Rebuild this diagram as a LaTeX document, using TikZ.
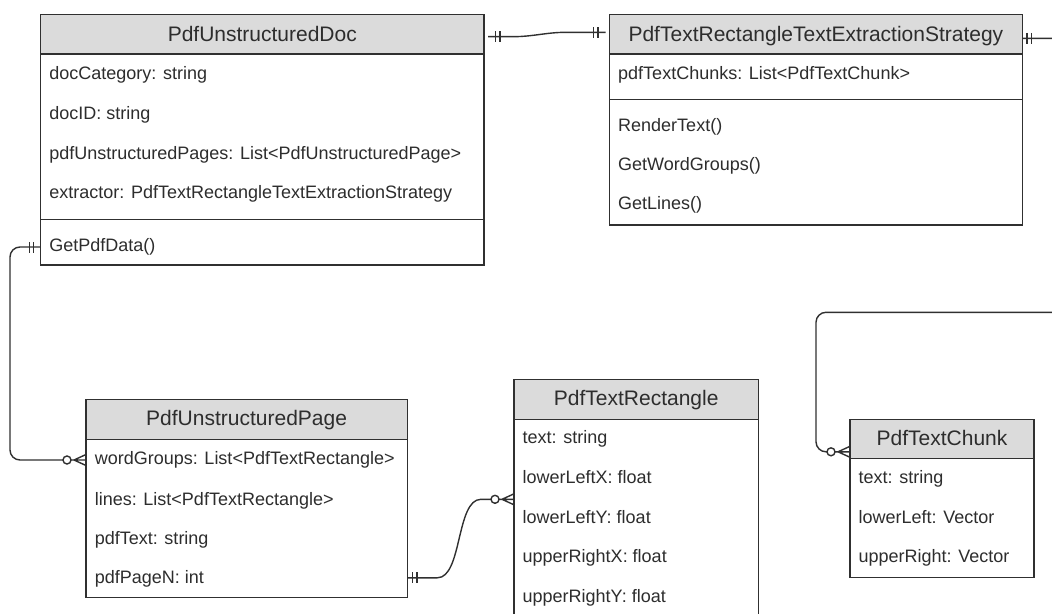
\documentclass[tikz,border=0pt]{standalone}
\usepackage{fontspec}
\setmainfont{Liberation Sans}
\usetikzlibrary{calc}

\definecolor{lc}{RGB}{48,48,48}
\definecolor{tc}{RGB}{45,45,45}
\definecolor{hfill}{RGB}{219,219,219}

% ER markers: #1 = point on the box border, #2 = direction pointing away from the box
\newcommand\erOne[3][6]{%
  \begin{scope}[shift={#2},rotate=#3]
    \draw[conn] (#1,-5.5) -- (#1,5.5);
    \draw[conn] ({#1+4.5},-5.5) -- ({#1+4.5},5.5);
  \end{scope}}
\newcommand\erMany[2]{%
  \begin{scope}[shift={#1},rotate=#2]
    \draw[conn] (0,0) -- (15,0) (0,-5.5) -- (12,0) -- (0,5.5);
    \draw[conn,fill=white] (19,0) circle[radius=4];
  \end{scope}}

\begin{document}
\begin{tikzpicture}[x=1pt,y=-1pt,
  box/.style={draw=lc,line width=1.4pt,fill=white,anchor=north west,inner sep=0pt,outer sep=0pt},
  hdr/.style={draw=lc,line width=1.4pt,fill=hfill,anchor=north west,inner sep=0pt,outer sep=0pt},
  row/.style={anchor=west,inner sep=0pt,text height=13pt,text depth=4pt,
              font=\fontsize{18}{20}\selectfont,text=tc},
  title/.style={inner sep=0pt,text height=15pt,text depth=4.5pt,
              font=\fontsize{21}{24}\selectfont,text=tc},
  conn/.style={draw=lc,line width=1.4pt},
  sep/.style={draw=lc,line width=1.4pt}]

\useasboundingbox (0,0) rectangle (1052,613);
\clip (0,0) rectangle (1052,613);

% ---------- PdfUnstructuredDoc ----------
\node[box,minimum width=443.3pt,minimum height=250.3pt] (doc) at (40.7,14.7) {};
\node[hdr,minimum width=443.3pt,minimum height=39.3pt] (docH) at (doc.north west) {};
\node[title] (docT) at (262.3,36) {PdfUnstructuredDoc};
\node[row] (dr1) at (49.2,75) {docCategory: string};
\node[row] (dr2) at (49.2,115) {docID: string};
\node[row] (dr3) at (49.2,155) {pdfUnstructuredPages: List<PdfUnstructuredPage>};
\node[row] (dr4) at (49.2,194) {extractor: PdfTextRectangleTextExtractionStrategy};
\draw[sep] (40.7,219.3) -- (484,219.3);
\node[row] (dm1) at (49.2,247) {GetPdfData()};

% ---------- PdfTextRectangleTextExtractionStrategy ----------
\node[box,minimum width=412.8pt,minimum height=210.3pt] (st) at (609.5,14.7) {};
\node[hdr,minimum width=412.8pt,minimum height=39.3pt] (stH) at (st.north west) {};
\node[title] (stT) at (815.9,36) {PdfTextRectangleTextExtractionStrategy};
\node[row] (sr1) at (618,75.3) {pdfTextChunks: List<PdfTextChunk>};
\draw[sep] (609.5,99.5) -- (1022.3,99.5);
\node[row] (sm1) at (618,127) {RenderText()};
\node[row] (sm2) at (618,166) {GetWordGroups()};
\node[row] (sm3) at (618,205) {GetLines()};

% ---------- PdfUnstructuredPage ----------
\node[box,minimum width=321.3pt,minimum height=198pt] (pg) at (86,399.3) {};
\node[hdr,minimum width=321.3pt,minimum height=40pt] (pgH) at (pg.north west) {};
\node[title] (pgT) at (246.6,420.5) {PdfUnstructuredPage};
\node[row] (pr1) at (94.6,460) {wordGroups: List<PdfTextRectangle>};
\node[row] (pr2) at (94.6,500.5) {lines: List<PdfTextRectangle>};
\node[row] (pr3) at (94.6,540) {pdfText: string};
\node[row] (pr4) at (94.6,579.3) {pdfPageN: int};

% ---------- PdfTextRectangle ----------
\node[box,minimum width=244.3pt,minimum height=241pt] (rect) at (514,379.3) {};
\node[hdr,minimum width=244.3pt,minimum height=40pt] (rectH) at (rect.north west) {};
\node[title] (rectT) at (636.2,400) {PdfTextRectangle};
\node[row] (rr1) at (522.5,439.3) {text: string};
\node[row] (rr2) at (522.5,479.3) {lowerLeftX: float};
\node[row] (rr3) at (522.5,519.3) {lowerLeftY: float};
\node[row] (rr4) at (522.5,558.3) {upperRightX: float};
\node[row] (rr5) at (522.5,598.3) {upperRightY: float};

% ---------- PdfTextChunk ----------
\node[box,minimum width=184pt,minimum height=158pt] (ch) at (850,419.3) {};
\node[hdr,minimum width=184pt,minimum height=39pt] (chH) at (ch.north west) {};
\node[title] (chT) at (942,440.3) {PdfTextChunk};
\node[row] (cr1) at (858.5,479.3) {text: string};
\node[row] (cr2) at (858.5,519.3) {lowerLeft: Vector};
\node[row] (cr3) at (858.5,558.3) {upperRight: Vector};

% ---------- connectors ----------
% doc -> pages
\draw[conn,rounded corners=10pt] (doc.west |- dm1) -| ($(pg.west |- pr1)+(-76,0)$)
      -- ($(pg.west |- pr1)+(-23,0)$);
\erOne[7]{(doc.west |- dm1)}{180}
\erMany{(pg.west |- pr1)}{180}

% page -> text rectangles
\coordinate (rp) at ($(rect.west |- rr2)!0.5!(rect.west |- rr3)$);
\coordinate (pp) at ($(pg.east |- pr4)+(0,-1.5)$);
\draw[conn] (pp) -- ++(30,0) .. controls ++(25,0) and ($(rp)+(-58,0)$) ..
      ($(rp)+(-33,0)$) -- ($(rp)+(-23,0)$);
\erOne[5]{(pp)}{0}
\erMany{(rp)}{180}

% doc -> extraction strategy
\coordinate (d1) at ([yshift=-2.3pt]docH.east);
\coordinate (s1) at ([yshift=2pt]stH.west);
\draw[conn] ($(d1)+(4,0)$) -- ++(26,0) .. controls ++(18,0) and ($(s1)+(-62,0)$) ..
      ($(s1)+(-45,0)$) -- ($(s1)+(-4,0)$);
\erOne[11.5]{(d1)}{0}
\erOne[11.5]{(s1)}{180}

% extraction strategy -> text chunks
\coordinate (s2) at ([yshift=-4pt]stH.east);
\coordinate (cp) at ([yshift=-13pt]chH.west);
\draw[conn,rounded corners=10pt] (s2) -| (1075,312.3) -| ($(cp)+(-34,0)$)
      -- ($(cp)+(-23,0)$);
\erOne[4.5]{(s2)}{0}
\erMany{(cp)}{180}

\end{tikzpicture}
\end{document}
